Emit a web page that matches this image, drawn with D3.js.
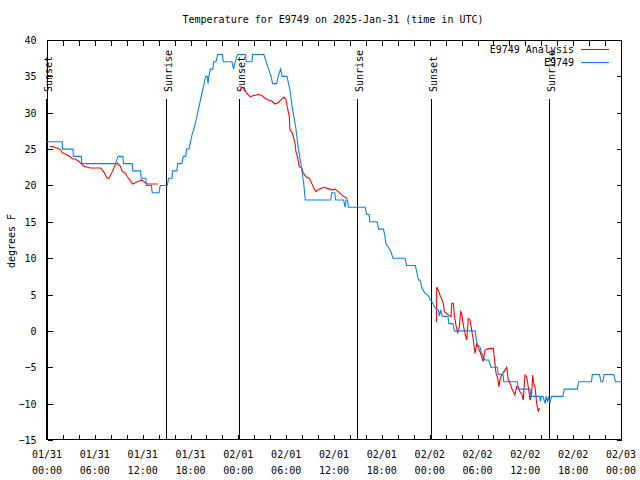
<!DOCTYPE html>
<html><head><meta charset="utf-8">
<script src="https://cdn.jsdelivr.net/npm/d3@7"></script>
<style>body{margin:0;background:#fff}svg{display:block}text{font-family:"DejaVu Sans Mono","Liberation Mono",monospace;font-size:10px;fill:#000}</style>
</head><body>
<svg id="c" width="640" height="480"></svg>
<script>
const titleText = "Temperature for E9749 on 2025-Jan-31 (time in UTC)";
const yLabel = "degrees F";
const seriesNames = ["E9749 Analysis", "E9749"];
const seriesColors = ["#ff0000", "#0a80f5"];
const yTicks = [-15,-10,-5,0,5,10,15,20,25,30,35,40];
const xTickHours = [0,6,12,18,24,30,36,42,48,54,60,66,72];
const xTickLabels = [["01/31","00:00"],["01/31","06:00"],["01/31","12:00"],["01/31","18:00"],["02/01","00:00"],["02/01","06:00"],["02/01","12:00"],["02/01","18:00"],["02/02","00:00"],["02/02","06:00"],["02/02","12:00"],["02/02","18:00"],["02/03","00:00"]];
const sunHours = [-0.08, 14.93, 24.09, 38.92, 48.17, 62.97];
const sunNames = ["Sunset","Sunrise","Sunset","Sunrise","Sunset","Sunrise"];

// observations (hours since 2025-01-31 00:00 UTC, deg F)
const obsHours = [0,1.92,1.95,3.26,3.3,4.3,4.35,8.6,8.9,9.5,9.6,10.7,10.75,11.75,11.8,12.4,12.45,13.1,13.2,14.05,14.2,15.1,15.25,15.7,15.75,16.3,16.4,16.9,17.1,17.4,17.5,17.8,18.0,18.2,18.5,18.7,18.9,19.1,19.3,19.5,19.7,19.9,20.1,20.2,20.3,20.5,20.8,20.9,21.2,21.4,22.0,22.1,23.2,23.4,23.6,23.9,24.9,25.0,25.7,25.8,27.2,27.5,27.8,28.1,28.3,28.8,29.0,29.3,29.5,30.1,30.3,30.5,30.8,31.2,31.5,31.9,32.2,32.4,35.6,35.7,36.1,36.2,37.2,37.4,37.5,37.7,37.8,39.9,40.1,40.4,40.5,41.4,41.6,42.2,42.4,42.5,42.8,43.1,43.4,44.9,45.1,46.2,46.4,46.6,46.8,47.0,47.4,47.8,48.1,48.4,48.8,49.1,49.2,49.4,49.5,49.7,50.3,50.4,50.9,51.1,53.7,53.9,54.0,54.3,54.5,54.9,55.4,55.7,56.5,56.6,57.2,57.3,59.0,59.1,60.6,60.7,61.8,61.9,62.0,62.2,62.5,62.6,62.8,62.9,63.1,63.3,64.7,64.9,66.5,66.7,68.3,68.4,69.3,69.5,69.7,69.9,71.1,71.3,72];
const obsTemps = [26,26,25,25,24,24,23,23,24,24,23,23,22,22,21,21,20,20,19,19,20,20,21,21,22,22,23,23,24,24,25,25,26,27,28,29,30,31,32,33,34,35,35,34,35,36,36,37,37,38,38,37,37,36,37,38,38,37,37,38,38,37,36,35,34,34,35,36,35,35,34,33,30.5,28,25.3,22.6,20.3,18,18,19,19,18,18,17,18,18,17,17,16,16,15,15,14,14,13,12,11.5,11,10,10,9,9,8,7,7,6,5.2,4.9,4.25,3.8,3.0,2.9,2.05,2.9,2.2,2,2,1,1,0,0,-1.5,-1.9,-2.2,-3,-4,-4,-5,-5,-6,-6,-7,-7,-8,-8,-9,-9,-9.7,-9,-9,-10,-9,-9.8,-9,-9.8,-9,-9,-8,-8,-7,-7,-6,-6,-7,-7,-6,-6,-7,-7];

// analysis (null = gap)
const anaHours = [0.4,0.88,1.29,1.72,1.92,2.35,2.76,3.17,3.6,4.01,4.23,4.55,5.06,5.48,6.74,7.15,7.56,7.78,8.19,8.53,8.82,9.16,9.45,9.75,10.07,10.41,10.7,11.13,11.54,11.88,12.17,12.58,13.92,
  null,
  24.12,24.62,25.05,25.46,25.88,26.5,26.93,27.35,27.76,28.19,28.6,29.01,29.44,29.73,29.98,30.14,30.39,30.48,30.7,30.9,31.11,31.23,31.4,31.65,31.95,32.15,32.49,32.9,33.2,33.49,33.74,34.16,34.75,35.16,35.71,36.13,36.54,36.97,37.38,37.67,
  null,
  48.86,48.88,49.08,49.3,49.51,49.71,49.84,50.34,50.68,50.77,50.97,51.09,51.3,51.52,51.72,51.89,52.02,52.22,52.43,52.64,52.84,53.06,53.27,53.47,53.69,53.9,54.1,54.31,54.53,54.73,54.94,55.16,55.78,55.98,56.07,56.32,56.53,56.7,56.82,57.04,57.45,57.66,57.87,58.08,58.29,58.49,58.7,58.92,59.12,59.33,59.54,59.74,59.96,60.17,60.37,60.59,60.8,60.92,61.09,61.21,61.43,61.63,61.76];
const anaTemps = [25.4,25.3,25.1,24.9,24.5,24.3,24.05,23.7,23.6,23.3,23.05,22.7,22.5,22.4,22.4,21.8,21.0,21,21.9,22.8,23.05,22.7,21.9,21.8,21.2,20.75,20.2,20.4,20.6,20.75,20.5,20.2,20.2,
  null,
  33.6,33.4,32.7,32.2,32.35,32.5,32.4,32.0,31.75,31.6,31.2,31.4,31.9,32.15,31.8,30.8,29.5,27.6,27.4,26.7,25.8,24.6,24.0,22.6,22.4,21.7,21.2,21.0,20.3,19.6,19.15,19.5,19.75,19.6,19.4,19.5,19.15,18.7,18.4,18.2,
  null,
  1.2,6.05,5.6,4.9,4.4,3.8,2.65,2.2,1.95,3.8,3.8,2.2,0.8,-0.33,0.6,2.65,2.4,0.8,-0.3,-1.25,1.7,1.5,0.1,-1.25,-3.1,-1.7,-2.4,-2.85,-3.55,-4.2,-2.6,-2.5,-2.4,-2.4,-3.3,-5.8,-6.5,-7.7,-6.75,-6.06,-5.4,-5.0,-6.75,-7.2,-7.9,-8.36,-8.8,-7.6,-7.7,-8.4,-8.6,-9.5,-6.06,-6.3,-7.7,-9.5,-8.6,-6.06,-7.4,-7.7,-10,-11.1,-10.6];

const base = Date.UTC(2025,0,31,0,0,0);
const toDate = h => new Date(base + h*3600000);

const L=47, R=621, T=40, B=440;
const svg = d3.select("#c");
const x = d3.scaleUtc().domain([toDate(0), toDate(72)]).range([L, R]);
const y = d3.scaleLinear().domain([-15, 40]).range([B, T]);

// title
svg.append("text").attr("x", 333).attr("y", 23).attr("text-anchor","middle").text(titleText);

// y axis label
svg.append("text").attr("transform","translate(15,241) rotate(-90)").attr("text-anchor","middle").text(yLabel);

// y ticks + labels
const yAxisL = d3.axisLeft(y).tickValues(yTicks).tickSize(-5).tickPadding(11).tickFormat(d3.format("d"));
const gyl = svg.append("g").attr("transform",`translate(${L+0.5},0)`).call(yAxisL);
const yAxisR = d3.axisRight(y).tickValues(yTicks).tickSize(-5).tickFormat("");
const gyr = svg.append("g").attr("transform",`translate(${R+0.5},0)`).call(yAxisR);

// x ticks every 2 hours (bottom & top), labels every 6 hours
const minor = d3.range(0, 73, 2).map(toDate);
const gxb = svg.append("g").attr("transform",`translate(0,${B-0.5})`).call(d3.axisBottom(x).tickValues(minor).tickSize(-5).tickFormat(""));
const gxt = svg.append("g").attr("transform",`translate(0,${T+0.5})`).call(d3.axisTop(x).tickValues(minor).tickSize(-5).tickFormat(""));
[gyl,gyr,gxb,gxt].forEach(g=>{g.select(".domain").remove(); g.selectAll("line").attr("stroke","#000").attr("shape-rendering","crispEdges");
  g.selectAll("text").style("font-family",'"DejaVu Sans Mono","Liberation Mono",monospace').style("font-size","10px").attr("fill","#000");});
gyl.selectAll("text").attr("dy","0.35em");

const xl = svg.append("g");
xTickHours.forEach((h,i)=>{
  const t = xl.append("text").attr("x", x(toDate(h))).attr("text-anchor","middle");
  t.append("tspan").attr("x", x(toDate(h))).attr("y", 458).text(xTickLabels[i][0]);
  t.append("tspan").attr("x", x(toDate(h))).attr("y", 474).text(xTickLabels[i][1]);
});

// frame
svg.append("rect").attr("x",L+0.5).attr("y",T+0.5).attr("width",R-L).attr("height",B-T-1)
  .attr("fill","none").attr("stroke","#000").attr("shape-rendering","crispEdges");

// sun lines
sunHours.forEach((h,i)=>{
  const sx = Math.round(x(toDate(h)))+0.5;
  svg.append("line").attr("x1",sx).attr("x2",sx).attr("y1",99).attr("y2",B)
    .attr("stroke","#000").attr("stroke-width",1).attr("shape-rendering","crispEdges");
  svg.append("text").attr("transform",`translate(${sx+5.5},92) rotate(-90)`).attr("text-anchor","start").text(sunNames[i]);
});

// series
const anaData = anaHours.map((h,i)=>[h, anaTemps[i]]);
const obsData = obsHours.map((h,i)=>[h, obsTemps[i]]);
const line = d3.line().defined(d=>d[0]!=null && d[1]!=null).x(d=>x(toDate(d[0]))).y(d=>y(d[1]));
svg.append("path").datum(anaData).attr("d",line).attr("fill","none").attr("stroke",seriesColors[0]).attr("stroke-width",1.1);
svg.append("path").datum(obsData).attr("d",line).attr("fill","none").attr("stroke",seriesColors[1]).attr("stroke-width",1.1);

// legend
seriesNames.forEach((n,i)=>{
  const ly = 49 + i*13;
  svg.append("text").attr("x",574).attr("y",ly).attr("dy","0.35em").attr("text-anchor","end").text(n);
  svg.append("line").attr("x1",581).attr("x2",609).attr("y1",ly+0.5).attr("y2",ly+0.5).attr("stroke",seriesColors[i]).attr("stroke-width",1.1);
});
</script>
</body></html>
